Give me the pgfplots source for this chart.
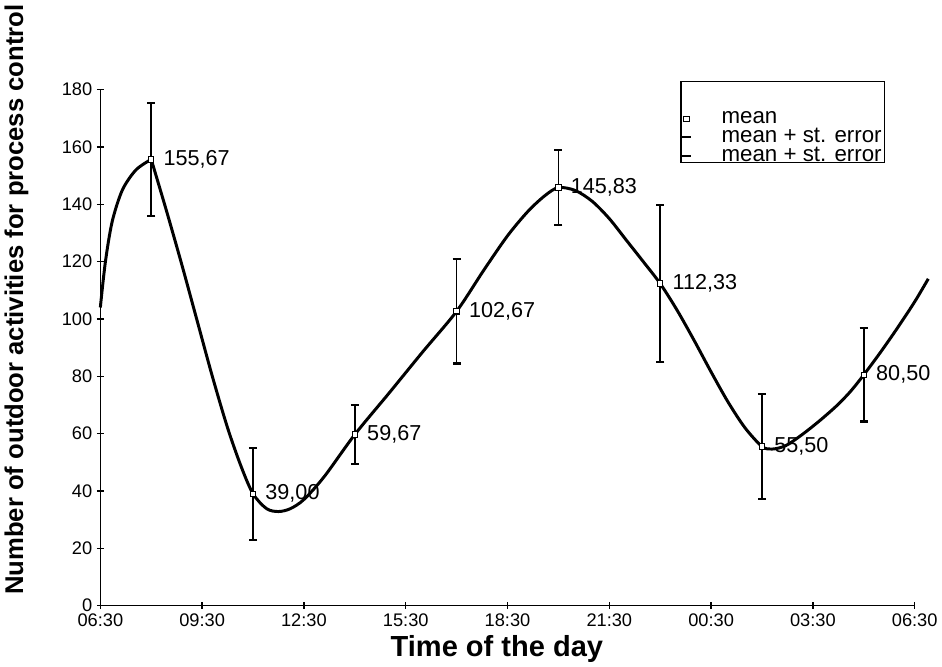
\documentclass[border=0pt]{standalone}
\usepackage{pgfplots}
\pgfplotsset{compat=1.18}
\usepackage{fontspec}
\setmainfont{Liberation Sans}

\pgfplotsset{
  dotlegend/.style={legend image code/.code={\draw[##1] plot coordinates {(0cm,0cm)};}},
}

% x = hours after 06:30
\pgfplotstableread{
h    mean    se
1.5  155.67  19.7
4.5  39.00   16.0
7.5  59.67   10.2
10.5 102.67  18.2
13.5 145.83  13.2
16.5 112.33  27.3
19.5 55.50   18.2
22.5 80.50   16.3
}\means

\begin{document}
\begin{tikzpicture}
\begin{axis}[
  scale only axis,
  width=603pt, height=382pt,
  xmin=0, xmax=24, ymin=0, ymax=180,
  axis x line*=bottom, axis y line*=left,
  axis line style={line width=1pt},
  xtick={0,3,...,24},
  xticklabels={06:30,09:30,12:30,15:30,18:30,21:30,00:30,03:30,06:30},
  ytick={0,20,...,180},
  tick align=center,
  major tick length=5pt,
  tick style={line width=1pt, black},
  tick label style={font=\fontsize{13.5}{13.5}\selectfont},
  /pgf/number format/assume math mode=true,
  xlabel={\bfseries Time of the day},
  ylabel={\bfseries Number of outdoor activities for process control},
  xlabel style={font=\fontsize{21.5}{21.5}\selectfont,
    at={(axis description cs:0.487,0)}, anchor=center, yshift=-32pt},
  ylabel style={font=\fontsize{19}{19}\selectfont,
    at={(axis description cs:-0.103,0.593)}, anchor=center},
  legend style={at={(axis description cs:0.968,0.9065)}, anchor=east,
    draw=none, fill=none, font=\fontsize{16.5}{16.5}\selectfont,
    inner xsep=3pt, inner ysep=0pt, row sep=-2pt, column sep=21pt},
  legend cell align=left,
  clip=false,
]
% smoothed line
\addplot[line width=2.2pt, smooth, tension=0.5, forget plot] coordinates {
  (0,104) (0.15,120) (0.35,134) (0.65,145) (1.05,152) (1.5,155.67)
};
\addplot[line width=2.2pt, smooth, tension=0.5, forget plot] coordinates {
  (1.5,155.67) (1.95,137.7) (2.4,119) (2.85,99.5) (3.3,80) (3.75,62)
  (4.15,48.5) (4.5,39) (4.9,33.8) (5.25,32.8) (5.6,33.8) (6.0,37) (6.6,45)
  (7.5,59.67) (8.5,74) (9.5,88.5) (10.5,102.67) (11.3,117) (12.0,129)
  (12.6,137.5) (13.1,143) (13.5,145.83) (14.0,144.8) (14.5,141) (15.0,135)
  (15.5,127.5) (16.0,120) (16.5,112.33) (17.0,103) (17.5,92.5) (18.0,81.5)
  (18.5,71) (19.0,62) (19.5,55.5) (19.8,54.6) (20.2,55.8) (20.7,59.8)
  (21.2,64.5) (21.7,69.7) (22.1,74.6) (22.5,80.5) (23.0,88.5) (23.5,97)
  (24.0,106) (24.4,114)
};
\addplot[only marks, mark=square*, mark size=2pt, forget plot,
  mark options={fill=white, draw=black, line width=0.8pt},
  error bars/.cd, y dir=both, y explicit,
  error bar style={line width=1.1pt, black},
  error mark options={rotate=90, line width=1.6pt, mark size=3pt, black},
  ] table[x=h, y=mean, y error=se] {\means};
\addplot[only marks, mark=none, forget plot,
  nodes near coords={\pgfmathprintnumber[fixed, fixed zerofill, precision=2, use comma]{\pgfplotspointmeta}},
  every node near coord/.style={anchor=west, xshift=9pt, inner sep=0pt,
    font=\fontsize{16}{16}\selectfont},
  ] table[x=h, y=mean] {\means};
\addlegendimage{only marks, mark=square*, mark size=2pt,
  mark options={fill=white, draw=black, line width=0.8pt}, dotlegend}
\addlegendentry{mean}
\addlegendimage{only marks, mark=-, mark size=3pt, line width=1.6pt, dotlegend}
\addlegendentry{mean + st. error}
\addlegendimage{only marks, mark=-, mark size=3pt, line width=1.6pt, dotlegend}
\addlegendentry{mean + st. error}
% legend frame
\draw[line width=0.8pt] (axis description cs:0.713,1.0156) rectangle (axis description cs:0.963,0.858);
\end{axis}
\end{tikzpicture}
\end{document}
